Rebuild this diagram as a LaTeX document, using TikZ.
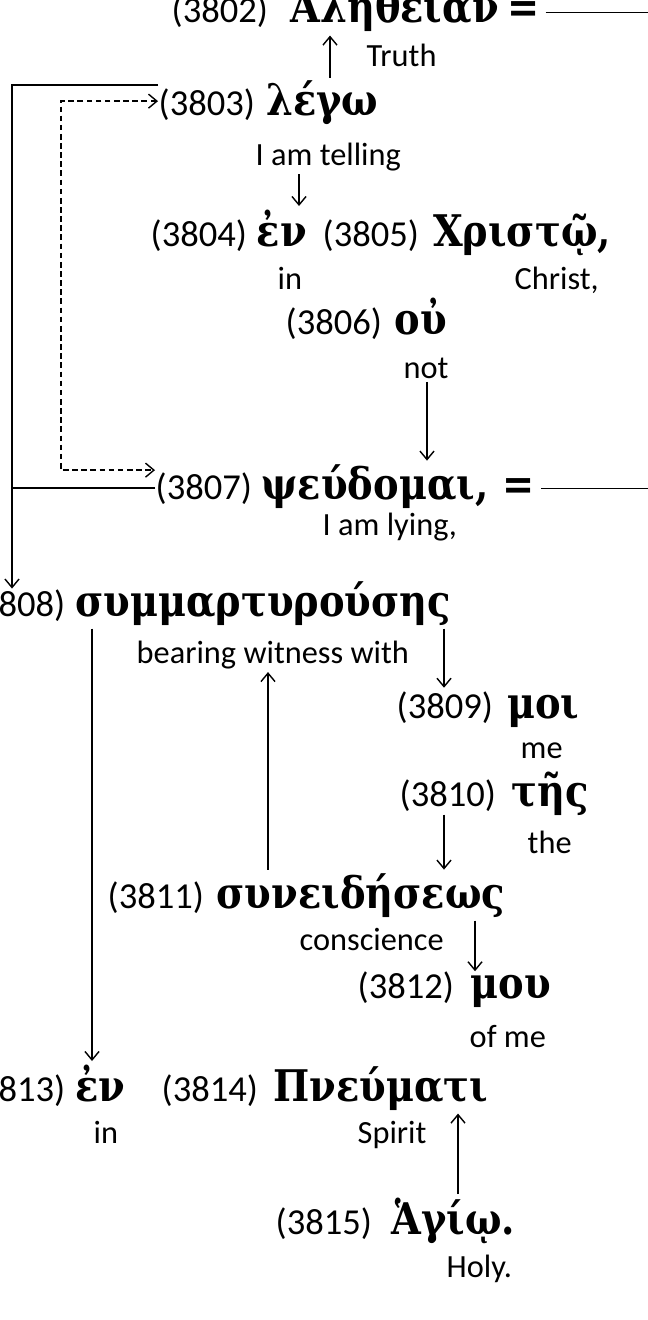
\documentclass[tikz,border=0pt]{standalone}
\usepackage{fontspec}
\setmainfont{Carlito}
\newfontfamily\greekfont{DejaVu Serif}[FakeStretch=0.88]
\usetikzlibrary{arrows.meta, positioning, calc}

\begin{document}
\begin{tikzpicture}[
    x=0.025cm, y=-0.025cm,
    >={Straight Barb[length=6pt, width=10pt]},
    line width=1pt,
    num/.style={
        font=\fontsize{26}{30}\selectfont,
        inner sep=0pt,
        anchor=base west
    },
    greek/.style={
        font=\greekfont\bfseries\fontsize{31}{34}\selectfont,
        inner sep=0pt
    },
    gloss/.style={
        font=\fontsize{23}{26}\selectfont,
        inner sep=0pt,
        anchor=base west
    },
    link/.style={->, shorten >=2pt, shorten <=2pt}
]

\useasboundingbox (0,0) rectangle (648,1320);

\coordinate (lbar) at (12,300);
\coordinate (dbar) at (61,300);
\coordinate (redge) at (648,0);

% 3802
\node[num] (n3802) at (171,23) {(3802)};
\node[greek, base right=15pt of n3802] (w3802) {Ἀλήθειαν};
\node[greek, base right=5pt of w3802] (q3802) {=};
\node[gloss] (g3802) at (366,67) {Truth};

% 3803
\node[num] (n3803) at (158,116) {(3803)};
\node[greek, base right=7pt of n3803] (w3803) {λέγω};
\node[gloss] (g3803) at (255,165) {I am telling};

% 3804 / 3805
\node[num] (n3804) at (150,246) {(3804)};
\node[greek, base right=6pt of n3804] (w3804) {ἐν};
\node[num] (n3805) at (322,246) {(3805)};
\node[greek, base right=9pt of n3805] (w3805) {Χριστῷ,};
\node[gloss] (g3804) at (277,289) {in};
\node[gloss] (g3805) at (514,289) {Christ,};

% 3806
\node[num] (n3806) at (285,334) {(3806)};
\node[greek, base right=8pt of n3806] (w3806) {οὐ};
\node[gloss] (g3806) at (403,378) {not};

% 3807
\node[num] (n3807) at (155,499) {(3807)};
\node[greek, base right=6pt of n3807] (w3807) {ψεύδομαι,};
\node[greek, base right=9pt of w3807] (q3807) {=};
\node[gloss] (g3807) at (322,535) {I am lying,};

% 3808
\node[num, anchor=base east] (n3808) at (66,616) {(3808)};
\node[greek, base right=6pt of n3808] (w3808) {συμμαρτυρούσης};
\node[gloss] (g3808) at (136,663) {bearing witness with};

% 3809
\node[num] (n3809) at (396,718) {(3809)};
\node[greek, base right=9pt of n3809] (w3809) {μοι};
\node[gloss] (g3809) at (520,758) {me};

% 3810
\node[num] (n3810) at (399,806) {(3810)};
\node[greek, base right=10pt of n3810] (w3810) {τῆς};
\node[gloss] (g3810) at (527,853) {the};

% 3811
\node[num] (n3811) at (107,908) {(3811)};
\node[greek, base right=8pt of n3811] (w3811) {συνειδήσεως};
\node[gloss] (g3811) at (299,950) {conscience};

% 3812
\node[num] (n3812) at (357,998) {(3812)};
\node[greek, base right=11pt of n3812] (w3812) {μου};
\node[gloss] (g3812) at (469,1047) {of me};

% 3813 / 3814
\node[num, anchor=base east] (n3813) at (66,1101) {(3813)};
\node[greek, base right=6pt of n3813] (w3813) {ἐν};
\node[num] (n3814) at (161,1101) {(3814)};
\node[greek, base right=10pt of n3814] (w3814) {Πνεύματι};
\node[gloss] (g3813) at (93,1143) {in};
\node[gloss] (g3814) at (357,1143) {Spirit};

% 3815
\node[num] (n3815) at (275,1234) {(3815)};
\node[greek, base right=13pt of n3815] (w3815) {Ἁγίῳ.};
\node[gloss] (g3815) at (446,1277) {Holy.};

% word to word
\draw[link] (330,0 |- w3803.north) -- (330,0 |- w3802.south);
\draw[link] (299,0 |- g3803.south) -- (299,0 |- w3804.north);
\draw[link] (427,0 |- g3806.south) -- (427,0 |- w3807.north);
\draw[link] (444,0 |- w3808.south) -- (444,0 |- n3809.north);
\draw[link] (444,0 |- n3810.south) -- (444,0 |- w3811.north);
\draw[link] (475,0 |- w3811.south) -- (475,0 |- w3812.north);
\draw[link] (268,0 |- w3811.north) -- (268,0 |- g3808.south);
\draw[link] (92,0 |- w3808.south) -- (92,0 |- w3813.north);
\draw[link] (458,0 |- w3815.north) -- (458,0 |- w3814.south);

% left brackets
\draw[->] ([yshift=0.5cm]n3803.west) -| (lbar) -- (lbar |- n3808.north);
\draw (n3807.west) -- (n3807.west -| lbar);
\draw[<->, dash pattern=on 4pt off 2.5pt] ([yshift=0.1cm]n3803.west) -| (dbar) |- ([yshift=0.45cm]n3807.west);

% equals lines
\draw ([xshift=4pt]q3802.east) -- (q3802.east -| redge);
\draw ([xshift=4pt]q3807.east) -- (q3807.east -| redge);

\end{tikzpicture}
\end{document}
